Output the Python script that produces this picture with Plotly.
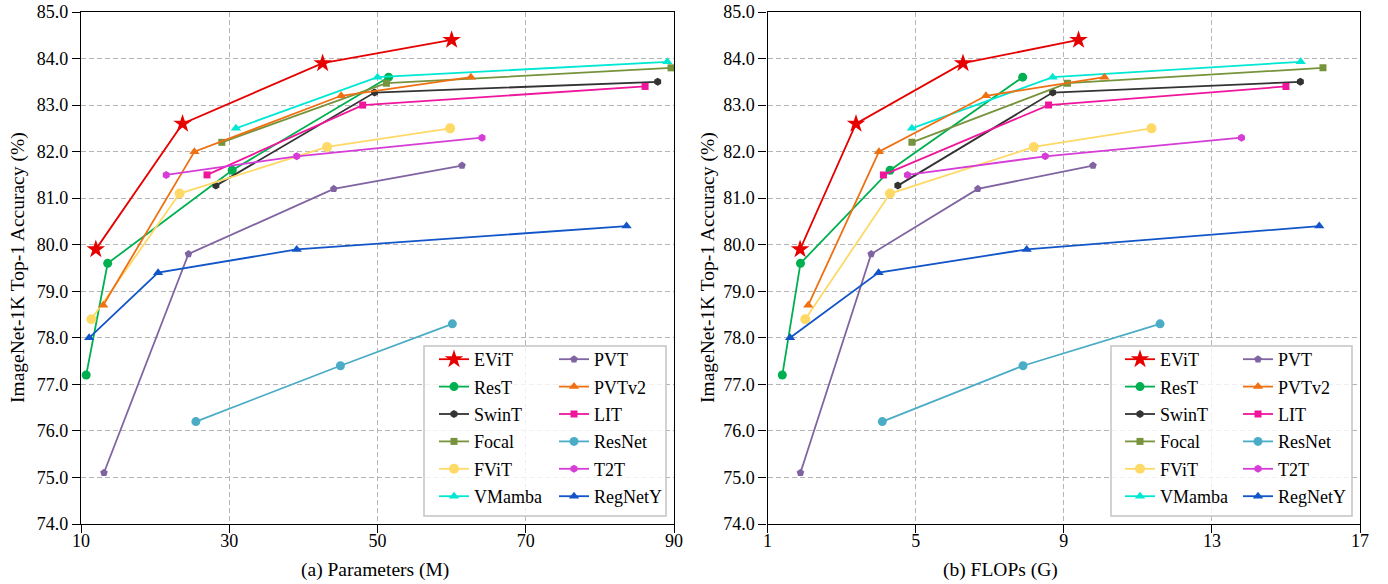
import plotly.graph_objects as go

# ---------------- data ----------------
models = ["EViT", "ResT", "SwinT", "Focal", "FViT", "VMamba",
          "PVT", "PVTv2", "LIT", "ResNet", "T2T", "RegNetY"]

params = {
    "EViT":    [12.0, 23.7, 42.6, 60.0],
    "ResT":    [10.7, 13.6, 30.4, 51.5],
    "SwinT":   [28.2, 49.6, 87.8],
    "Focal":   [29.0, 51.2, 89.6],
    "FViT":    [11.4, 23.3, 43.2, 59.8],
    "VMamba":  [30.9, 50.0, 89.1],
    "PVT":     [13.1, 24.5, 44.1, 61.4],
    "PVTv2":   [13.0, 25.3, 45.1, 62.6],
    "LIT":     [27.0, 48.0, 86.1],
    "ResNet":  [25.5, 45.0, 60.1],
    "T2T":     [21.5, 39.1, 64.1],
    "RegNetY": [11.1, 20.4, 39.1, 83.6],
}

flops = {
    "EViT":    [1.88, 3.39, 6.28, 9.4],
    "ResT":    [1.4, 1.89, 4.31, 7.89],
    "SwinT":   [4.52, 8.7, 15.39],
    "Focal":   [4.9, 9.1, 16.0],
    "FViT":    [2.02, 4.31, 8.19, 11.37],
    "VMamba":  [4.9, 8.7, 15.4],
    "PVT":     [1.89, 3.8, 6.68, 9.79],
    "PVTv2":   [2.1, 4.01, 6.9, 10.1],
    "LIT":     [4.13, 8.59, 15.0],
    "ResNet":  [4.1, 7.9, 11.6],
    "T2T":     [4.78, 8.5, 13.8],
    "RegNetY": [1.61, 4.0, 8.0, 15.9],
}

accuracy = {
    "EViT":    [79.9, 82.6, 83.9, 84.4],
    "ResT":    [77.2, 79.6, 81.6, 83.6],
    "SwinT":   [81.27, 83.27, 83.5],
    "Focal":   [82.2, 83.47, 83.8],
    "FViT":    [78.4, 81.1, 82.1, 82.5],
    "VMamba":  [82.5, 83.6, 83.93],
    "PVT":     [75.1, 79.8, 81.2, 81.7],
    "PVTv2":   [78.7, 82.0, 83.2, 83.6],
    "LIT":     [81.5, 83.0, 83.4],
    "ResNet":  [76.2, 77.4, 78.3],
    "T2T":     [81.5, 81.9, 82.3],
    "RegNetY": [78.0, 79.4, 79.9, 80.4],
}

x1_ticks = [10, 30, 50, 70, 90]
x2_ticks = [1, 5, 9, 13, 17]
y_ticks = [74, 75, 76, 77, 78, 79, 80, 81, 82, 83, 84, 85]
x1_title = "(a) Parameters (M)"
x2_title = "(b) FLOPs (G)"
y_title = "ImageNet-1K Top-1 Accuracy (%)"

# ---------------- styles ----------------
style = {
    "EViT":    dict(color="#e60000", symbol="star", size=14),
    "ResT":    dict(color="#00b050", symbol="circle", size=9),
    "SwinT":   dict(color="#333333", symbol="hexagon", size=8),
    "Focal":   dict(color="#77933c", symbol="square", size=7),
    "FViT":    dict(color="#ffd966", symbol="circle", size=10),
    "VMamba":  dict(color="#00e8d4", symbol="triangle-up", size=9),
    "PVT":     dict(color="#8064a2", symbol="pentagon", size=8),
    "PVTv2":   dict(color="#ee7012", symbol="triangle-up", size=9),
    "LIT":     dict(color="#f0169c", symbol="square", size=7),
    "ResNet":  dict(color="#4bacc6", symbol="circle", size=9),
    "T2T":     dict(color="#d63cd6", symbol="hexagon", size=8),
    "RegNetY": dict(color="#1155c8", symbol="triangle-up", size=9),
}
col1 = ["EViT", "ResT", "SwinT", "Focal", "FViT", "VMamba"]

FONT = "Liberation Serif, Times New Roman, serif"

fig = go.Figure()
for side, xdata, xa, ya, legs in [("a", params, "x", "y", ("legend", "legend2")),
                                  ("b", flops, "x2", "y2", ("legend3", "legend4"))]:
    for m in models:
        s = style[m]
        fig.add_trace(go.Scatter(
            x=xdata[m], y=accuracy[m], name=m, mode="lines+markers",
            xaxis=xa, yaxis=ya,
            line=dict(color=s["color"], width=1.8),
            marker=dict(color=s["color"], symbol=s["symbol"], size=s["size"],
                        line=dict(width=0)),
            legend=legs[0] if m in col1 else legs[1],
            legendgroup=m + side,
        ))

# page body margin is removed (see post_script), so layout is in screen pixels
W, H = 1388, 584
ML, MR, MT, MB = 81, 28, 12, 60
PW = W - ML - MR
PH = H - MT - MB


def px_x(p):
    return (p - ML) / PW


def px_y(p):
    return (H - MB - p) / PH


axis_common = dict(
    showline=True, mirror=True, linecolor="black", linewidth=1.3,
    ticks="outside", ticklen=8, tickwidth=1.3, tickcolor="black",
    showgrid=True, gridcolor="#b5b5b5", gridwidth=1, griddash="5px,3px",
    zeroline=False, automargin=False, ticklabeloverflow="allow",
    tickfont=dict(family=FONT, size=18, color="black"),
)

fig.update_layout(
    width=W, height=H,
    margin=dict(l=ML, r=MR, t=MT, b=MB, autoexpand=False),
    paper_bgcolor="white", plot_bgcolor="white",
    font=dict(family=FONT, color="black"),
    xaxis=dict(domain=[0, px_x(674)], range=[10, 90], tickvals=x1_ticks,
               anchor="y", ticklabelstandoff=-8, **axis_common),
    yaxis=dict(domain=[0, 1], range=[74, 85], tickvals=y_ticks, tickformat=".1f",
               anchor="x", **axis_common),
    xaxis2=dict(domain=[px_x(767.5), 1], range=[1, 17], tickvals=x2_ticks,
                anchor="y2", ticklabelstandoff=-8, **axis_common),
    yaxis2=dict(domain=[0, 1], range=[74, 85], tickvals=y_ticks, tickformat=".1f",
                anchor="x2", **axis_common),
    showlegend=True,
)

leg_common = dict(yanchor="top", xanchor="left", bgcolor="rgba(0,0,0,0)",
                  borderwidth=0, tracegroupgap=1,
                  font=dict(family=FONT, size=18, color="black"))
fig.update_layout(
    legend=dict(x=px_x(434), y=px_y(341), **leg_common),
    legend2=dict(x=px_x(554), y=px_y(341), **leg_common),
    legend3=dict(x=px_x(1120), y=px_y(341), **leg_common),
    legend4=dict(x=px_x(1238), y=px_y(341), **leg_common),
)

for (x0, x1) in [(424, 666), (1111, 1352)]:
    fig.add_shape(type="rect", xref="paper", yref="paper",
                  x0=px_x(x0), x1=px_x(x1), y0=px_y(516), y1=px_y(346),
                  line=dict(color="#c4c4c4", width=1.5),
                  fillcolor="rgba(255,255,255,0.8)", layer="above")

ann = [
    dict(text=x1_title, x=px_x(375), y=px_y(570), textangle=0),
    dict(text=x2_title, x=px_x(1000), y=px_y(570), textangle=0),
    dict(text=y_title, x=px_x(18), y=px_y(268), textangle=-90),
    dict(text=y_title, x=px_x(708), y=px_y(268), textangle=-90),
]
for a in ann:
    fig.add_annotation(xref="paper", yref="paper", showarrow=False,
                       xanchor="center", yanchor="middle",
                       font=dict(family=FONT, size=19.5, color="black"), **a)

fig.write_html("out.html",
               config={"displayModeBar": False},
               post_script="document.body.style.margin='0';"
                           "document.body.style.overflow='hidden';")
